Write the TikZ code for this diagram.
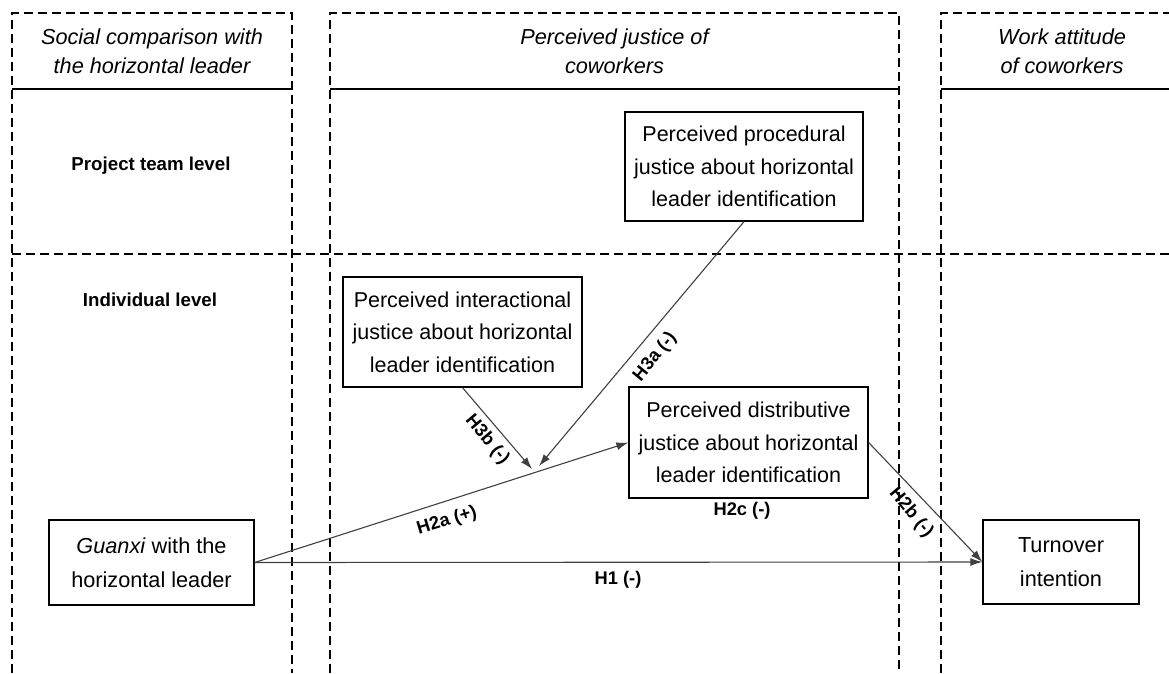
\documentclass[tikz,border=0pt]{standalone}
\usepackage{fontspec}
\setmainfont{Liberation Sans}
\usetikzlibrary{arrows.meta}
\begin{document}
\begin{tikzpicture}[x=1pt,y=-1pt,
  dsh/.style={dash pattern=on 9pt off 5pt, line width=1.2pt},
  hdr/.style={line width=1.3pt},
  box/.style={draw, line width=1.3pt, align=center, inner sep=0pt, font=\fontsize{21.5}{32.5}\selectfont},
  hd/.style={align=center, font=\fontsize{21.7}{29}\selectfont\itshape},
  lvl/.style={font=\fontsize{18.7}{22}\selectfont\bfseries},
  hl/.style={font=\fontsize{18.3}{22}\selectfont\bfseries, inner sep=0pt},
  arr/.style={draw=black!75, line width=1.1pt, -{Latex[length=12pt,width=8pt]}}
]
\useasboundingbox (0,0) rectangle (1169,673);
% columns
\draw[dsh] (12,673) -- (12,13) -- (292,13) -- (292,673);
\draw[dsh] (330,673) -- (330,13) -- (899,13) -- (899,673);
\draw[dsh] (941,673) -- (941,13) -- (1169,13);
\draw[dsh] (12,254) -- (1169,254);
\draw[hdr] (12,89) -- (292,89);
\draw[hdr] (330,89) -- (899,89);
\draw[hdr] (941,89) -- (1169,89);
% headers
\node[hd] (h1) at (152,51) {Social comparison with\\the horizontal leader};
\node[hd] (h2) at (614.5,51) {Perceived justice of\\coworkers};
\node[hd] (h3) at (1062,51) {Work attitude\\of coworkers};
% levels
\node[lvl] (lv1) at (151,166) {Project team level};
\node[lvl] (lv2) at (150,300) {Individual level};
% boxes
\node[box, minimum width=238pt, minimum height=109pt] (p) at (744,166.5) {Perceived procedural\\justice about horizontal\\leader identification};
\node[box, minimum width=239pt, minimum height=110pt] (i) at (462.5,332) {Perceived interactional\\justice about horizontal\\leader identification};
\node[box, minimum width=239pt, minimum height=111pt] (d) at (748.5,442.5) {Perceived distributive\\justice about horizontal\\leader identification};
\node[box, minimum width=205pt, minimum height=85pt, font=\fontsize{21.7}{34}\selectfont] (g) at (151.5,562.5) {\textit{Guanxi} with the\\horizontal leader};
\node[box, minimum width=156pt, minimum height=84pt, font=\fontsize{21.7}{34}\selectfont] (t) at (1061,562) {Turnover\\intention};
% moderation targets
\coordinate (mb) at (532,469);
\coordinate (ma) at (539,466);
% connectors
\draw[arr] (g.east) -- (t.west);
\draw[arr] (g.east) -- (d.west);
\draw[arr] (d.east) -- (t.west);
\draw[arr] (i.south) -- (mb);
\draw[arr] (p.south) -- (ma);
% connector labels
\node[hl] (l1) at (618,580) {H1 (-)};
\node[hl, rotate=17] (l2a) at (447,521) {H2a (+)};
\node[hl, rotate=-50] (l2b) at (911,513) {H2b (-)};
\node[hl, rotate=-50] (l3b) at (487,440) {H3b (-)};
\node[hl, rotate=51] (l3a) at (655,357) {H3a (-)};
\node[hl] (l2c) at (742,511) {H2c (-)};
\end{tikzpicture}
\end{document}
